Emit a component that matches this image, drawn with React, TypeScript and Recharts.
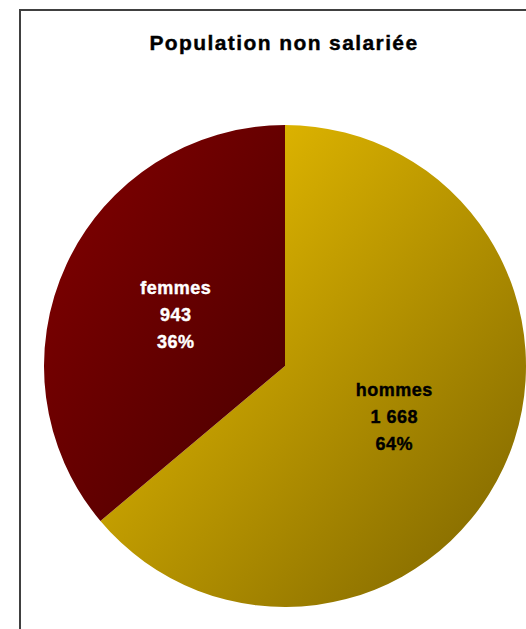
import { Cell, Pie, PieChart } from 'recharts';

const categories = ['hommes', 'femmes'];
const values = [1668, 943];
const percents = ['64%', '36%'];
const title = 'Population non salariée';

const gradients = [
  { id: 'gHommes', from: '#f6c800', to: '#7a6200' },
  { id: 'gFemmes', from: '#840000', to: '#480000' },
];
const labelColors = ['#000000', '#ffffff'];

const rows = categories.map((name, i) => ({
  name,
  value: values[i],
  pct: percents[i],
}));

const fmt = (n: number) => n.toLocaleString('fr-FR').replace(/\s/g, ' ');

const RADIAN = Math.PI / 180;

function renderLabel(props: any) {
  const { cx, cy, midAngle, outerRadius, index } = props;
  const r = outerRadius * 0.5;
  const x = cx + r * Math.cos(-midAngle * RADIAN);
  const y = cy + r * Math.sin(-midAngle * RADIAN);
  const row = rows[index];
  const lines = [row.name, fmt(row.value), row.pct];
  return (
    <text
      x={x}
      y={y}
      textAnchor="middle"
      fill={labelColors[index]}
      stroke={labelColors[index]}
      strokeWidth={0.4}
      fontFamily="'Liberation Sans', Arial, sans-serif"
      fontWeight="bold"
      fontSize={18}
      letterSpacing={0.5}
    >
      {lines.map((l, i) => (
        <tspan key={i} x={x} y={y + (i - 1) * 27} dominantBaseline="central">
          {l}
        </tspan>
      ))}
    </text>
  );
}

export default function App() {
  return (
    <div
      style={{
        position: 'absolute',
        left: 0,
        top: 0,
        width: 526,
        height: 629,
        background: '#fff',
        overflow: 'hidden',
      }}
    >
      <div
        style={{
          position: 'absolute',
          left: 19,
          top: 9,
          width: 600,
          height: 700,
          borderLeft: '2px solid #404040',
          borderTop: '2px solid #404040',
        }}
      />
      <div
        style={{
          position: 'absolute',
          left: 0,
          top: 31,
          width: 568,
          textAlign: 'center',
          fontFamily: "'Liberation Sans', Arial, sans-serif",
          fontWeight: 'bold',
          fontSize: 21,
          letterSpacing: 1.4,
          WebkitTextStroke: '0.4px #000',
          color: '#000',
        }}
      >
        {title}
      </div>
      <div style={{ position: 'absolute', left: 0, top: 0 }}>
        <PieChart width={526} height={629} margin={{ top: 0, right: 0, bottom: 0, left: 0 }}>
          <defs>
            {gradients.map((g) => (
              <linearGradient key={g.id} id={g.id} x1="0" y1="0" x2="1" y2="1">
                <stop offset="0%" stopColor={g.from} />
                <stop offset="100%" stopColor={g.to} />
              </linearGradient>
            ))}
          </defs>
          <Pie
            data={rows}
            dataKey="value"
            nameKey="name"
            cx={285}
            cy={366}
            outerRadius={241}
            startAngle={90}
            endAngle={-270}
            stroke="none"
            label={renderLabel}
            labelLine={false}
            isAnimationActive={false}
          >
            {rows.map((r, i) => (
              <Cell key={r.name} fill={`url(#${gradients[i].id})`} />
            ))}
          </Pie>
        </PieChart>
      </div>
    </div>
  );
}
